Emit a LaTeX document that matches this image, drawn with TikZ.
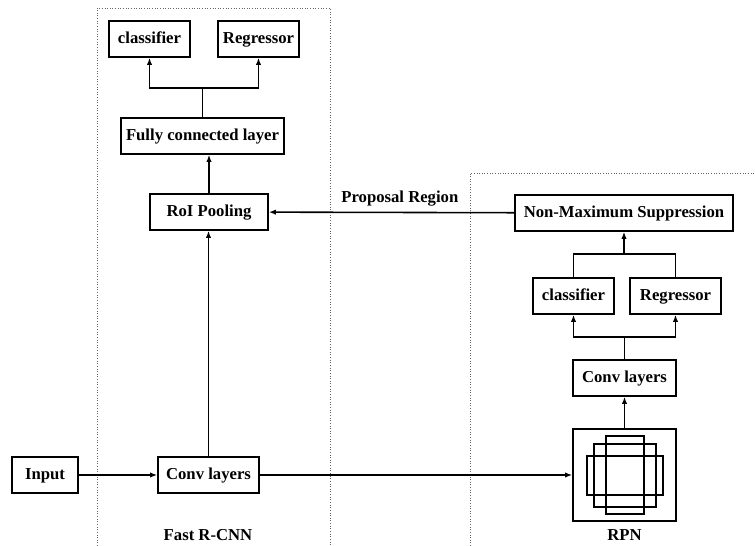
\documentclass[tikz,border=0pt]{standalone}
\usepackage{fontspec}
\setmainfont{Liberation Serif}
\usetikzlibrary{arrows.meta}

\begin{document}
\begin{tikzpicture}[x=0.02cm, y=-0.02cm]
            \tikzset{line/.style={line width=0.9pt}};
            \tikzset{box/.style={draw, line width=0.9pt, minimum height=0.72cm, inner sep=0pt,
                    text height=0.7em, text depth=0.22em,
                    font=\bfseries\fontsize{9.5}{11}\selectfont}};
            \tikzset{arr/.style={line, -{Latex[length=4pt,width=3pt]}}};
            \tikzset{frame/.style={line width=0.5pt, gray!80!black, densely dotted}};
            \useasboundingbox (0,0) rectangle (755,546);
            
            % frames
            \draw[frame] (97,546) -- (97,8) -- (330,8) -- (330,546);
            \draw[frame] (470,546) -- (470,173) -- (755,173);
            \node[font=\bfseries\fontsize{9.5}{11}\selectfont] (fastlabel) at (208,535) {Fast R-CNN};
            \node[font=\bfseries\fontsize{9.5}{11}\selectfont] (rpnlabel) at (624.5,535) {RPN};
            
            % Fast R-CNN
            \node[box, minimum width=1.62cm] (cls) at (149.5,39) {classifier};
            \node[box, minimum width=1.62cm] (reg) at (258.5,39) {Regressor};
            \node[box, minimum width=3.26cm] (fc) at (202.5,136) {Fully connected layer};
            \node[box, minimum width=2.36cm] (roi) at (209,212) {RoI Pooling};
            \node[box, minimum width=1.32cm] (input) at (45,475) {Input};
            \node[box, minimum width=2.02cm] (conv) at (208.5,475) {Conv layers};
            
            \coordinate (fcsplit) at (202.5,88);
            \draw[line] (fc.north) -- (fc.north |- fcsplit);
            \draw[arr] (fc.north |- fcsplit) -| (cls.south);
            \draw[arr] (fc.north |- fcsplit) -| (reg.south);
            \draw[arr] (roi.north) -- (roi.north |- fc.south);
            \draw[arr] (conv.north) -- (conv.north |- roi.south);
            \draw[arr] (input) -- (conv);
            
            % RPN
            \node[box, minimum width=4.36cm] (nms) at (624,213) {Non-Maximum Suppression};
            \node[box, minimum width=1.62cm] (rpncls) at (573.5,296) {classifier};
            \node[box, minimum width=1.82cm] (rpnreg) at (675.5,296) {Regressor};
            \node[box, minimum width=2.06cm] (rpnconv) at (624.5,378) {Conv layers};
            \node[box, minimum width=2.06cm, minimum height=1.84cm] (rpn) at (624.5,475) {};
            \draw[line width=0.6pt] (606,436) rectangle (644,514);
            \draw[line width=0.6pt] (594,444) rectangle (656,507);
            \draw[line width=0.6pt] (587,456) rectangle (663,495);
            
            \coordinate (convsplit) at (624.5,337);
            \coordinate (nmssplit) at (624,254);
            \draw[arr] (conv) -- (rpn);
            \draw[arr] (rpn) -- (rpnconv);
            \draw[line] (rpnconv.north) -- (convsplit);
            \draw[arr] (convsplit) -| (rpncls.south);
            \draw[arr] (convsplit) -| (rpnreg.south);
            \draw[line] (rpncls.north) |- (nmssplit);
            \draw[line] (rpnreg.north) |- (nmssplit);
            \draw[arr] (nmssplit) -- (nms.south);
            \draw[arr] (nms) -- node[above, pos=0.466, font=\bfseries\fontsize{9.5}{11}\selectfont] {Proposal Region} (roi);
        \end{tikzpicture}
\end{document}
